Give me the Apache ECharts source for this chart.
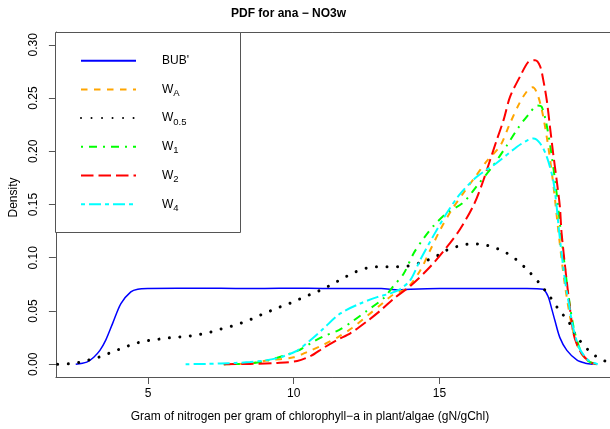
<!DOCTYPE html>
<html><head><meta charset="utf-8">
<script src="https://cdn.jsdelivr.net/npm/echarts@6/dist/echarts.min.js"></script>
<style>html,body{margin:0;padding:0;background:#fff}#c{width:610px;height:429px}</style>
</head><body><div id="c"></div>
<script>
const titleText = 'PDF for ana \u2212 NO3w';
const xAxisTitle = 'Gram of nitrogen per gram of chlorophyll\u2212a in plant/algae (gN/gChl)';
const yAxisTitle = 'Density';
const seriesNames = ["BUB'", 'W_A', 'W_0.5', 'W_1', 'W_2', 'W_4'];
const xTicks = [5, 10, 15];
const yTicks = [0, 0.05, 0.10, 0.15, 0.20, 0.25, 0.30];

const bubX = [2.52, 2.9, 3.14, 3.35, 3.55, 3.79, 4.07, 4.41, 4.65, 5.0, 6, 7, 8, 9, 10, 11, 12, 13, 13.6, 14, 15, 16, 17, 18, 18.55, 18.72, 18.86, 18.96, 19.13, 19.37, 19.72, 20.0, 20.26];
const bubY = [0, 0.002, 0.0066, 0.013, 0.0226, 0.0386, 0.057, 0.068, 0.0705, 0.0712, 0.0714, 0.0713, 0.0712, 0.0712, 0.0713, 0.0712, 0.0711, 0.071, 0.0698, 0.0705, 0.0711, 0.0711, 0.0711, 0.0712, 0.0705, 0.064, 0.051, 0.041, 0.025, 0.013, 0.0038, 0.001, 0];

const wAX = [7.6, 8.5, 9.09, 10.0, 10.5, 11.0, 11.55, 12.0, 12.5, 13.08, 13.42, 13.89, 14.34, 14.68, 15.02, 15.42, 15.8, 16.2, 16.6, 17.08, 17.4, 17.76, 18.05, 18.2, 18.34, 18.51, 18.7, 18.9, 19.1, 19.3, 19.55, 19.8, 20.1, 20.4];
const wAY = [0, 0.0008, 0.0035, 0.0065, 0.012, 0.018, 0.026, 0.034, 0.045, 0.058, 0.0655, 0.0715, 0.088, 0.107, 0.126, 0.145, 0.160, 0.175, 0.19, 0.205, 0.225, 0.246, 0.258, 0.26, 0.255, 0.239, 0.21, 0.17, 0.12, 0.075, 0.035, 0.013, 0.003, 0];

const w05X = [1.9, 2.32, 2.70, 3.06, 3.41, 3.78, 4.14, 4.50, 4.87, 5.24, 5.62, 6.0, 6.37, 6.76, 7.12, 7.49, 7.87, 8.23, 8.57, 8.93, 9.28, 9.64, 10.0, 10.34, 10.69, 11.03, 11.37, 11.71, 12.06, 12.42, 12.77, 13.16, 13.54, 13.92, 14.3, 14.66, 15.0, 15.31, 15.67, 16.05, 16.46, 16.83, 17.2, 17.6, 18.0, 18.4, 18.8, 19.1, 19.43, 19.59, 19.82, 20.08, 20.35, 20.67, 21.0];
const w05Y = [0, 0.0005, 0.002, 0.0047, 0.0075, 0.0116, 0.0153, 0.019, 0.0216, 0.023, 0.0245, 0.0254, 0.0263, 0.028, 0.030, 0.033, 0.0357, 0.039, 0.0426, 0.047, 0.051, 0.055, 0.0586, 0.063, 0.0668, 0.071, 0.0759, 0.081, 0.086, 0.0897, 0.0915, 0.0915, 0.0915, 0.0922, 0.095, 0.0985, 0.103, 0.108, 0.111, 0.113, 0.1126, 0.110, 0.106, 0.099, 0.089, 0.077, 0.063, 0.051, 0.040, 0.031, 0.022, 0.014, 0.0078, 0.0031, 0.001];

const w1X = [7.6, 8.5, 9.09, 10.12, 10.6, 11.0, 11.55, 12.0, 12.5, 13.08, 13.42, 13.77, 14.11, 14.45, 14.8, 15.25, 15.82, 16.3, 16.8, 17.3, 17.7, 18.1, 18.35, 18.5, 18.65, 18.8, 19.0, 19.2, 19.4, 19.6, 19.85, 20.1, 20.4];
const w1Y = [0, 0.0008, 0.0035, 0.0125, 0.02, 0.026, 0.032, 0.040, 0.050, 0.062, 0.0734, 0.085, 0.104, 0.118, 0.130, 0.142, 0.152, 0.168, 0.185, 0.205, 0.222, 0.236, 0.243, 0.242, 0.228, 0.205, 0.165, 0.115, 0.07, 0.035, 0.012, 0.003, 0];

const w2X = [7.6, 8.5, 9.43, 10.12, 10.6, 11.0, 11.5, 11.94, 12.5, 13.0, 13.44, 14.0, 14.68, 15.25, 15.71, 16.2, 16.51, 16.74, 16.97, 17.2, 17.42, 17.76, 18.05, 18.28, 18.45, 18.56, 18.68, 18.79, 18.9, 19.02, 19.13, 19.19, 19.4, 19.59, 19.71, 19.88, 20.16, 20.39];
const w2Y = [0, 0.0003, 0.0012, 0.003, 0.008, 0.015, 0.023, 0.029, 0.040, 0.051, 0.0618, 0.0735, 0.0915, 0.110, 0.127, 0.151, 0.173, 0.192, 0.211, 0.2295, 0.251, 0.270, 0.284, 0.2855, 0.28, 0.267, 0.248, 0.223, 0.198, 0.173, 0.148, 0.123, 0.07, 0.030, 0.019, 0.010, 0.002, 0];

const w4X = [6.29, 7.0, 7.5, 8.0, 8.5, 9.0, 9.4, 9.7, 10.1, 10.57, 11.0, 11.6, 12.28, 12.86, 13.31, 13.65, 14.0, 14.34, 14.8, 15.25, 15.71, 16.28, 16.96, 17.65, 18.0, 18.22, 18.45, 18.68, 18.9, 19.02, 19.11, 19.3, 19.45, 19.58, 19.8, 20.1, 20.43];
const w4Y = [0, 0.0003, 0.0007, 0.0012, 0.002, 0.0035, 0.0055, 0.008, 0.0125, 0.0226, 0.033, 0.0477, 0.057, 0.063, 0.0665, 0.0705, 0.079, 0.098, 0.121, 0.142, 0.16, 0.176, 0.189, 0.204, 0.210, 0.212, 0.2075, 0.195, 0.173, 0.148, 0.123, 0.08, 0.055, 0.035, 0.015, 0.004, 0];

const FONT = 'Liberation Sans, Arial, sans-serif';
const AXIS_COLOR = '#555';
const pairs = (xs, ys) => xs.map((x, i) => [x, ys[i]]);

const styles = [
  {color: '#0000FF', width: 1.5, type: 'solid', cap: 'butt'},
  {color: '#FFA500', width: 2, type: [6.5, 6.5], cap: 'butt'},
  {color: '#000000', width: 3, type: [0.01, 10.5], cap: 'round'},
  {color: '#00FF00', width: 2, type: [2, 6, 8, 6], cap: 'butt'},
  {color: '#FF0000', width: 2, type: [12.5, 5], cap: 'butt'},
  {color: '#00FFFF', width: 2, type: [4, 4, 12, 4], cap: 'butt'}
];
const dataSets = [pairs(bubX, bubY), pairs(wAX, wAY), pairs(w05X, w05Y), pairs(w1X, w1Y), pairs(w2X, w2Y), pairs(w4X, w4Y)];

const series = seriesNames.map((name, i) => ({
  name: name,
  type: 'line',
  xAxisIndex: 0,
  data: dataSets[i],
  showSymbol: false,
  symbol: 'circle',
  smooth: 0.3,
  color: styles[i].color,
  lineStyle: {color: styles[i].color, width: styles[i].width, type: styles[i].type, cap: styles[i].cap},
  z: 2 + i * 0.01
}));

function legendLabel(name) {
  const p = name.split('_');
  if (p.length === 1) return '{n|' + name + '}';
  return '{n|' + p[0] + '}{s|' + p[1] + '}';
}

const X_MIN = 1.84, X_MAX = 20.85;

const chart = echarts.init(document.getElementById('c'), null, {renderer: 'canvas'});
chart.setOption({
  animation: false,
  backgroundColor: '#ffffff',
  title: {
    text: titleText,
    left: 231, top: 7.5, padding: 0,
    textStyle: {fontFamily: FONT, fontSize: 12, fontWeight: 'bold', color: '#000'}
  },
  grid: {left: 55, top: 32, right: 0, bottom: 52, show: false},
  xAxis: [{
    type: 'value', min: X_MIN, max: X_MAX, position: 'bottom',
    name: xAxisTitle, nameLocation: 'middle', nameGap: 34,
    nameTextStyle: {fontFamily: FONT, fontSize: 12, color: '#000', padding: [0, 46, 0, 0]},
    axisLine: {show: true, onZero: false, lineStyle: {color: AXIS_COLOR, width: 1}},
    axisTick: {show: true, customValues: xTicks, length: 7, lineStyle: {color: AXIS_COLOR}},
    axisLabel: {customValues: xTicks, margin: 11, fontFamily: FONT, fontSize: 12, color: '#000'},
    splitLine: {show: false}
  }, {
    type: 'value', min: X_MIN, max: X_MAX, position: 'top',
    axisLine: {show: true, onZero: false, lineStyle: {color: AXIS_COLOR, width: 1}},
    axisTick: {show: false}, axisLabel: {show: false}, splitLine: {show: false}
  }],
  yAxis: {
    type: 'value', min: -0.012, max: 0.312,
    name: yAxisTitle, nameLocation: 'middle', nameGap: 27, nameRotate: 90,
    nameTextStyle: {fontFamily: FONT, fontSize: 12, color: '#000', padding: [0, 0, 0, 14]},
    axisLine: {show: true, onZero: false, lineStyle: {color: AXIS_COLOR, width: 1}},
    axisTick: {show: true, customValues: yTicks, length: 7, lineStyle: {color: AXIS_COLOR}},
    axisLabel: {customValues: yTicks, rotate: 90, margin: 16, fontFamily: FONT, fontSize: 12, color: '#000', formatter: v => v.toFixed(2)},
    splitLine: {show: false}
  },
  legend: {
    orient: 'vertical', left: 80, top: 51.7, padding: 0,
    itemWidth: 55, itemHeight: 18, itemGap: 10.7,
    data: seriesNames,
    itemStyle: {opacity: 0},
    formatter: legendLabel,
    textStyle: {
      fontFamily: FONT, fontSize: 12, color: '#000', lineHeight: 18, padding: [0, 0, 0, 21],
      rich: {
        n: {fontFamily: FONT, fontSize: 12, color: '#000', lineHeight: 18},
        s: {fontFamily: FONT, fontSize: 9.5, color: '#000', lineHeight: 10, verticalAlign: 'bottom'}
      }
    },
    selectedMode: false
  },
  graphic: [{
    type: 'rect', z: 3,
    shape: {x: 55.5, y: 32.5, width: 185, height: 200},
    style: {fill: '#fff', stroke: AXIS_COLOR, lineWidth: 1}
  }],
  series: series
});
</script></body></html>
